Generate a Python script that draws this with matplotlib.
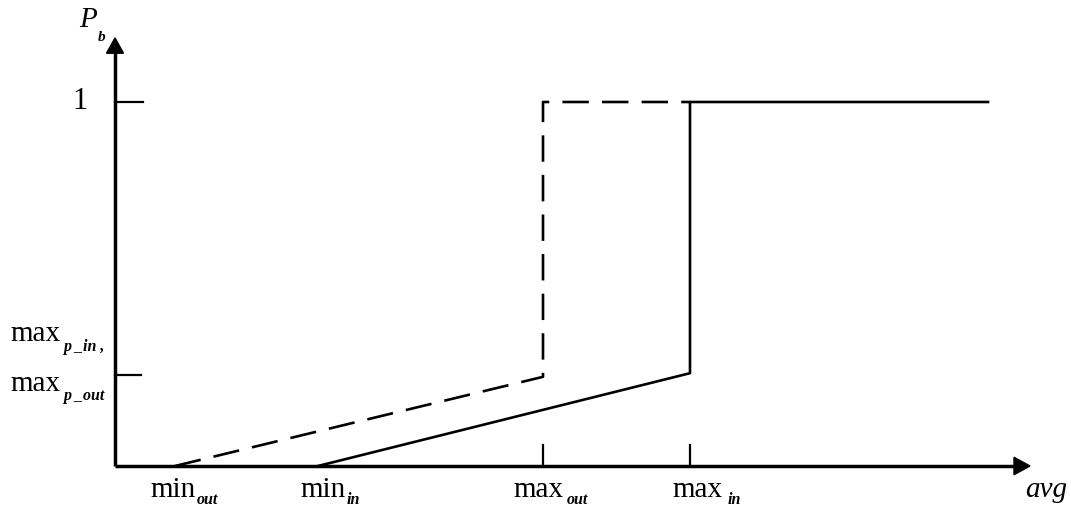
import matplotlib
matplotlib.use("Agg")
import matplotlib.pyplot as plt
from matplotlib.patches import Polygon

# ---- data ----
x_names = ["min_out", "min_in", "max_out", "max_in"]
x_values = [0.60, 2.03, 4.28, 5.75]
max_p_out_level = 0.245   # dashed curve value at max_out
max_p_in_level = 0.255    # solid curve value at max_in
max_p_tick = 0.25
x_end = 8.73
x_axis_end = 9.15
y_axis_end = 1.176

min_out, min_in, max_out, max_in = x_values

dashed_x = [min_out, max_out, max_out, max_in]
dashed_y = [0, max_p_out_level, 1, 1]
solid_x = [min_in, max_in, max_in, x_end]
solid_y = [0, max_p_in_level, 1, 1]

fig = plt.figure(figsize=(10.71, 5.08), dpi=100)
ax = fig.add_axes([0, 0, 1, 1])
ax.set_xlim(-1.15, 9.56)
ax.set_ylim(-0.1154, 1.2802)
ax.axis("off")

serif = "Liberation Serif"

# axes lines
ax.plot([0, x_axis_end - 0.1], [0, 0], color="black", lw=2.5, solid_capstyle="butt")
ax.plot([0, 0], [0, y_axis_end - 0.03], color="black", lw=2.5, solid_capstyle="butt")
# arrow heads
ax.add_patch(Polygon([[x_axis_end, 0], [x_axis_end - 0.16, 0.024], [x_axis_end - 0.16, -0.024]],
                     closed=True, color="black"))
ax.add_patch(Polygon([[0, y_axis_end], [-0.085, y_axis_end - 0.042], [0.085, y_axis_end - 0.042]],
                     closed=True, color="black"))

# y ticks
ax.plot([0, 0.28], [1, 1], color="black", lw=1.6)
ax.plot([0, 0.26], [max_p_tick, max_p_tick], color="black", lw=1.6)
# x ticks at max_out and max_in
for xv in (max_out, max_in):
    ax.plot([xv, xv], [0, 0.058], color="black", lw=1.6)

# curves
ax.plot(dashed_x, dashed_y, color="black", lw=1.9, linestyle=(0, (10, 5)))
ax.plot(solid_x, solid_y, color="black", lw=1.9)

# labels
fs = 21
sub = 11.5
ax.text(-0.43, 1, "1", fontsize=22, family=serif, ha="left", va="center")
ax.text(-0.36, 1.225, "P", fontsize=21, family=serif, style="italic", ha="left", va="center")
ax.text(-0.17, 1.176, "b", fontsize=11, family=serif, style="italic", weight="bold", ha="left", va="center")

# left-side labels
ax.text(-1.05, 0.362, "max", fontsize=fs, family=serif, ha="left", va="center")
ax.text(-0.52, 0.327, "p _in ,", fontsize=sub, family=serif, style="italic", weight="bold", ha="left", va="center")
ax.text(-1.05, 0.225, "max", fontsize=fs, family=serif, ha="left", va="center")
ax.text(-0.52, 0.192, "p _out", fontsize=sub, family=serif, style="italic", weight="bold", ha="left", va="center")

# bottom labels: (main text, subscript, main x, subscript x)
bottom = [("min", "out", 0.35, 0.82), ("min", "in", 1.85, 2.32),
          ("max", "out", 3.98, 4.52), ("max", "in", 5.57, 6.13)]
for main, s, xm, xs in bottom:
    ax.text(xm, -0.065, main, fontsize=fs, family=serif, ha="left", va="center")
    ax.text(xs, -0.093, s, fontsize=sub, family=serif, style="italic", weight="bold",
            ha="left", va="center")

ax.text(9.10, -0.066, "avg", fontsize=fs, family=serif, style="italic", ha="left", va="center")

fig.savefig("out.png", dpi=100)
